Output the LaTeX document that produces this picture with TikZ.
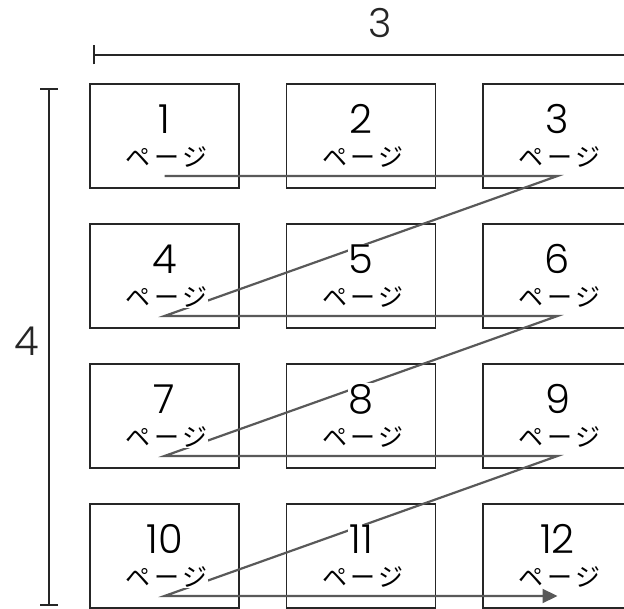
\documentclass[tikz,border=0pt]{standalone}
\usepackage{fontspec}
\setmainfont{Poppins Light}
\newfontfamily\jpfont[LetterSpace=14]{Noto Sans CJK JP}
\usetikzlibrary{arrows.meta,positioning,calc}

\begin{document}
\begin{tikzpicture}[x=1pt,y=-1pt,
    page/.style={draw=black!85,line width=1.8pt,minimum width=149pt,minimum height=104pt,inner sep=0pt},
    num/.style={fill=white,inner sep=1pt,font=\fontsize{40}{40}\selectfont},
    kana/.style={fill=white,inner sep=0.5pt,font=\jpfont\fontsize{25}{25}\selectfont},
    route/.style={draw=black!65,line width=2.2pt},
    dim/.style={line width=2.4pt,draw=black!85},
    dimlabel/.style={font=\fontsize{40}{40}\selectfont,text=black!85}]
        \useasboundingbox (0,0) rectangle (624,609);

            % pages
            \foreach \n in {1,...,12}{
                \pgfmathtruncatemacro\col{mod(\n-1,3)}
                \pgfmathtruncatemacro\row{div(\n-1,3)}
                \node[page] (p\n) at (164.5+196.5*\col,136+140*\row) {};
                \coordinate (s\n) at ($(p\n.center)+(0,40)$);
            }

            % reading order
            \draw[route,-{Triangle[length=15pt,width=14pt]}] (s1)--(s3)--(s4)--(s6)--(s7)--(s9)--(s10)--(s12);

            \foreach \n in {1,...,12}{
                \node[num] (n\n) at ($(p\n.center)+(0,-17)$) {\n};
                \node[kana] (k\n) at ($(p\n.center)+(2,21)$) {ページ};
            }

            % size
            \coordinate (wl) at (93,55);
            \coordinate (wr) at (640,55);
            \coordinate (ht) at (49,88);
            \coordinate (hb) at (49,606);
            \draw[dim,{Bar[width=19pt]}-] (wl)--(wr);
            \draw[dim,{Bar[width=18pt]}-{Bar[width=18pt]}] (ht)--(hb);
 \node[dimlabel] (w) at (380,23) {3};
            \node[dimlabel] (h) at (27,341) {4};
        \end{tikzpicture}
\end{document}
